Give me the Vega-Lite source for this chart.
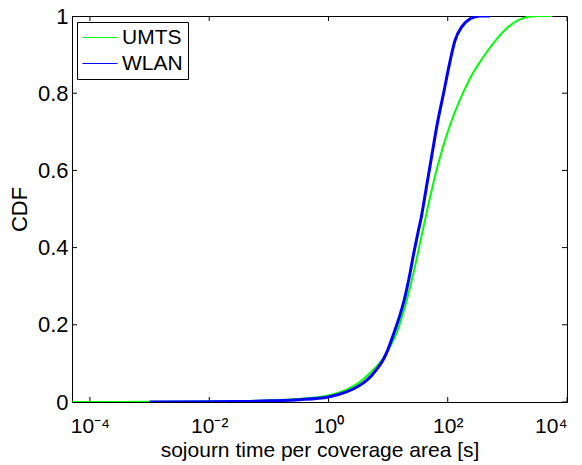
{
  "$schema": "https://vega.github.io/schema/vega-lite/v6.json",
  "autosize": "none",
  "width": 495,
  "height": 386,
  "padding": {"left": 72, "top": 16, "right": 15, "bottom": 63},
  "background": "white",
  "config": {
    "view": {"stroke": "black", "strokeWidth": 1},
    "font": "Liberation Sans",
    "axis": {
      "domainColor": "black",
      "tickColor": "black",
      "labelColor": "black",
      "titleColor": "black",
      "labelFont": "Liberation Sans",
      "titleFont": "Liberation Sans",
      "labelFontSize": 22,
      "titleFontSize": 21,
      "titleFontWeight": "normal",
      "grid": false
    }
  },
  "datasets": {
    "cdf": [
      {"t": 0.00005, "F": 0.0, "net": "UMTS"},
      {"t": 0.000316, "F": 0.0003, "net": "UMTS"},
      {"t": 0.001, "F": 0.0006, "net": "UMTS"},
      {"t": 0.01, "F": 0.0012, "net": "UMTS"},
      {"t": 0.0316, "F": 0.002, "net": "UMTS"},
      {"t": 0.1, "F": 0.004, "net": "UMTS"},
      {"t": 0.316, "F": 0.008, "net": "UMTS"},
      {"t": 1, "F": 0.017, "net": "UMTS"},
      {"t": 2.0, "F": 0.032, "net": "UMTS"},
      {"t": 3.16, "F": 0.049, "net": "UMTS"},
      {"t": 5.01, "F": 0.076, "net": "UMTS"},
      {"t": 8.32, "F": 0.114, "net": "UMTS"},
      {"t": 11.2, "F": 0.148, "net": "UMTS"},
      {"t": 13.8, "F": 0.178, "net": "UMTS"},
      {"t": 20.4, "F": 0.262, "net": "UMTS"},
      {"t": 26.3, "F": 0.33, "net": "UMTS"},
      {"t": 32.4, "F": 0.394, "net": "UMTS"},
      {"t": 41.7, "F": 0.472, "net": "UMTS"},
      {"t": 53.7, "F": 0.548, "net": "UMTS"},
      {"t": 63.1, "F": 0.593, "net": "UMTS"},
      {"t": 75.9, "F": 0.639, "net": "UMTS"},
      {"t": 95.5, "F": 0.69, "net": "UMTS"},
      {"t": 117, "F": 0.73, "net": "UMTS"},
      {"t": 145, "F": 0.767, "net": "UMTS"},
      {"t": 182, "F": 0.802, "net": "UMTS"},
      {"t": 251, "F": 0.846, "net": "UMTS"},
      {"t": 347, "F": 0.881, "net": "UMTS"},
      {"t": 468, "F": 0.91, "net": "UMTS"},
      {"t": 617, "F": 0.934, "net": "UMTS"},
      {"t": 977, "F": 0.968, "net": "UMTS"},
      {"t": 1549, "F": 0.99, "net": "UMTS"},
      {"t": 2239, "F": 0.998, "net": "UMTS"},
      {"t": 3162, "F": 1.0, "net": "UMTS"},
      {"t": 5623, "F": 1.0, "net": "UMTS"},
      {"t": 0.001, "F": 0.0, "net": "WLAN"},
      {"t": 0.01, "F": 0.0005, "net": "WLAN"},
      {"t": 0.0316, "F": 0.001, "net": "WLAN"},
      {"t": 0.1, "F": 0.003, "net": "WLAN"},
      {"t": 0.316, "F": 0.006, "net": "WLAN"},
      {"t": 1, "F": 0.013, "net": "WLAN"},
      {"t": 2.0, "F": 0.026, "net": "WLAN"},
      {"t": 3.16, "F": 0.041, "net": "WLAN"},
      {"t": 4.37, "F": 0.056, "net": "WLAN"},
      {"t": 6.31, "F": 0.083, "net": "WLAN"},
      {"t": 8.32, "F": 0.11, "net": "WLAN"},
      {"t": 10, "F": 0.137, "net": "WLAN"},
      {"t": 12.6, "F": 0.18, "net": "WLAN"},
      {"t": 15.8, "F": 0.225, "net": "WLAN"},
      {"t": 18.6, "F": 0.264, "net": "WLAN"},
      {"t": 22.4, "F": 0.32, "net": "WLAN"},
      {"t": 26.9, "F": 0.385, "net": "WLAN"},
      {"t": 31.6, "F": 0.438, "net": "WLAN"},
      {"t": 35.5, "F": 0.474, "net": "WLAN"},
      {"t": 43.7, "F": 0.555, "net": "WLAN"},
      {"t": 53.7, "F": 0.636, "net": "WLAN"},
      {"t": 67.6, "F": 0.725, "net": "WLAN"},
      {"t": 85.1, "F": 0.8, "net": "WLAN"},
      {"t": 107, "F": 0.876, "net": "WLAN"},
      {"t": 132, "F": 0.936, "net": "WLAN"},
      {"t": 174, "F": 0.973, "net": "WLAN"},
      {"t": 234, "F": 0.992, "net": "WLAN"},
      {"t": 347, "F": 1.0, "net": "WLAN"},
      {"t": 513, "F": 1.0, "net": "WLAN"}
    ],
    "xticks": [
      {"t": 0.0001, "F": 0}, {"t": 0.01, "F": 0}, {"t": 1, "F": 0}, {"t": 100, "F": 0}, {"t": 10000, "F": 0},
      {"t": 0.0001, "F": 1}, {"t": 0.01, "F": 1}, {"t": 1, "F": 1}, {"t": 100, "F": 1}, {"t": 10000, "F": 1}
    ],
    "yticks": [
      {"t": 0.00005, "F": 0}, {"t": 0.00005, "F": 0.2}, {"t": 0.00005, "F": 0.4}, {"t": 0.00005, "F": 0.6}, {"t": 0.00005, "F": 0.8}, {"t": 0.00005, "F": 1},
      {"t": 10000, "F": 0}, {"t": 10000, "F": 0.2}, {"t": 10000, "F": 0.4}, {"t": 10000, "F": 0.6}, {"t": 10000, "F": 0.8}, {"t": 10000, "F": 1}
    ]
  },
  "encoding": {
    "x": {
      "field": "t", "type": "quantitative",
      "scale": {"type": "log", "domain": [0.00005, 10000], "nice": false},
      "axis": {
        "orient": "bottom",
        "values": [0.0001, 0.01, 1, 100, 10000],
        "labelExpr": "datum.value == 0.0001 ? '10⁻⁴' : datum.value == 0.01 ? '10⁻²' : datum.value == 1 ? '10⁰' : datum.value == 100 ? '10²' : '10⁴'",
        "labelFontSize": 21,
        "ticks": false,
        "labelBaseline": "alphabetic",
        "labelPadding": 30,
        "titleBaseline": "alphabetic",
        "titleY": 54,
        "titleX": 247.5,
        "titleAlign": "center",
        "title": "sojourn time per coverage area [s]"
      }
    },
    "y": {
      "field": "F", "type": "quantitative",
      "scale": {"domain": [0, 1], "nice": false},
      "axis": {
        "orient": "left",
        "values": [0, 0.2, 0.4, 0.6, 0.8, 1],
        "format": "~g",
        "ticks": false,
        "labelPadding": 4,
        "titleFontSize": 22,
        "titleBaseline": "alphabetic",
        "titleX": -46,
        "titleY": 193,
        "titleAlign": "center",
        "titleAngle": -90,
        "title": "CDF"
      }
    }
  },
  "layer": [
    {
      "data": {"name": "xticks"},
      "mark": {"type": "tick", "orient": "vertical", "size": 10, "thickness": 1, "color": "black", "clip": true, "opacity": 1}
    },
    {
      "data": {"name": "yticks"},
      "mark": {"type": "tick", "orient": "horizontal", "size": 10, "thickness": 1, "color": "black", "clip": true, "opacity": 1}
    },
    {
      "data": {"name": "cdf"},
      "transform": [{"filter": "datum.net == 'UMTS'"}],
      "mark": {"type": "line", "interpolate": "monotone", "clip": true, "strokeWidth": 2},
      "encoding": {
        "color": {
          "field": "net", "type": "nominal",
          "scale": {"domain": ["UMTS", "WLAN"], "range": ["#00ff00", "#0000ff"]},
          "legend": {
            "orient": "none",
            "legendX": 5,
            "legendY": 6,
            "title": null,
            "symbolType": "stroke",
            "symbolSize": 1225,
            "symbolStrokeWidth": 1,
            "clipHeight": 21,
            "labelFontSize": 21,
            "labelFont": "Liberation Sans",
            "labelColor": "black",
            "strokeColor": "black",
            "fillColor": "white",
            "padding": 5,
            "rowPadding": 4,
            "labelOffset": 4
          }
        }
      }
    },
    {
      "data": {"name": "cdf"},
      "transform": [{"filter": "datum.net == 'WLAN'"}],
      "mark": {"type": "line", "interpolate": "monotone", "clip": true, "strokeWidth": 3},
      "encoding": {
        "color": {"field": "net", "type": "nominal"}
      }
    }
  ]
}
